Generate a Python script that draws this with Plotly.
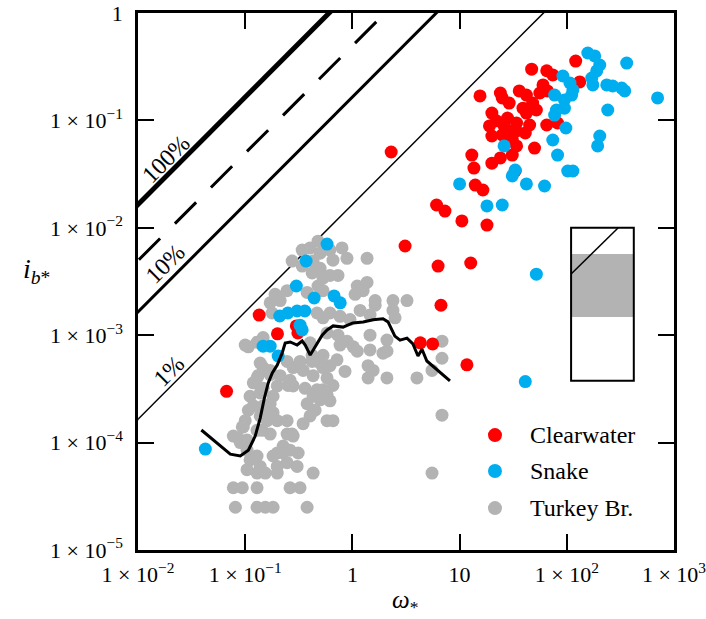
import numpy as np
import plotly.graph_objects as go

# ---- Clearwater River samples (omega*, i_b*) ----
clear_w = [121, 47, 65, 74, 132, 60, 66, 15.5, 24, 25, 36, 42, 56, 48, 29, 20, 22, 28, 34, 42,
           52, 45, 65, 82, 19, 20, 25, 29, 34, 50, 31, 13, 13.6, 20, 24, 31, 33, 14, 16.5, 6.1,
           7.3, 10.5, 18, 3.1, 6.3, 12.7, 6.7, 2.3, 0.135, 0.20, 0.31, 0.30, 4.3, 5.6, 11.7, 0.067,
           39, 34, 26, 41]
clear_i = [0.357, 0.30, 0.29, 0.265, 0.228, 0.214, 0.188, 0.169, 0.18, 0.162, 0.188, 0.172, 0.18,
           0.145, 0.145, 0.117, 0.099, 0.105, 0.0946, 0.117, 0.125, 0.0906, 0.0906, 0.0946, 0.0888,
           0.0716, 0.0733, 0.0797, 0.0578, 0.0553, 0.0657, 0.0476, 0.036, 0.040, 0.0447, 0.0476,
           0.0338, 0.025, 0.0225, 0.0163, 0.0143, 0.0116, 0.0106, 0.00677, 0.0044, 0.0047, 0.0019,
           0.0508, 0.00154, 0.00103, 0.00105, 0.00122, 8.5e-4, 8.3e-4, 5.3e-4, 3.0e-4,
           0.13, 0.0797, 0.0888, 0.0763]

# ---- Snake River samples ----
snake_w = [157, 182, 203, 190, 362, 92, 107, 114, 111, 77, 171, 175, 236, 268, 325, 347, 703, 95,
           95, 80, 77, 241, 98, 26, 74, 82, 203, 194, 102, 114, 33, 31, 42, 62, 10, 18, 25, 52, 41,
           0.58, 0.37, 0.30, 0.44, 0.675, 0.77, 0.21, 0.25, 0.305, 0.36, 0.325, 0.34, 0.147,
           0.171, 0.203, 0.0425]
snake_i = [0.424, 0.398, 0.328, 0.289, 0.342, 0.259, 0.223, 0.192, 0.172, 0.172, 0.248, 0.214,
           0.214, 0.209, 0.20, 0.188, 0.162, 0.155, 0.13, 0.125, 0.112, 0.125, 0.085, 0.0578,
           0.0657, 0.0476, 0.0716, 0.0578, 0.0338, 0.0338, 0.0345, 0.0304, 0.0256, 0.0245, 0.0256,
           0.016, 0.0163, 0.0037, 3.7e-4,
           0.00706, 0.0049, 0.00287, 0.00222, 0.00232, 0.002, 0.00151, 0.00161, 0.00168, 0.00168,
           0.00124, 0.00112, 7.9e-4, 7.9e-4, 6.4e-4, 8.7e-5]

# ---- Turkey Brook samples ----
turkey_w = [0.34, 0.403, 0.478, 0.50, 0.618, 0.80, 0.89, 0.659, 1.37, 0.274, 0.34, 0.43, 0.50,
            0.532, 0.478, 0.532, 0.421, 0.618, 0.734, 0.199, 0.246, 0.212, 0.178, 0.378, 1.11,
            1.37, 1.26, 1.06, 1.63, 1.63, 2.39, 3.23, 1.18, 1.46, 2.39, 2.5, 0.468, 0.618, 0.767,
            0.95, 0.532, 0.107, 0.129, 0.58, 0.734, 0.89, 1.02, 0.767, 0.403, 0.421, 0.50, 0.618,
            0.718, 1.46, 2.10, 2.10, 1.93, 1.46, 1.11, 1.56, 2.10, 4.0, 5.53, 6.85, 6.85, 0.853,
            1.40, 1.40, 0.532, 0.532, 0.58, 0.659, 0.58, 0.618, 0.138, 0.132, 0.119, 0.147, 0.171,
            0.212, 0.199, 0.251, 0.246, 0.28, 0.325, 0.421, 0.147, 0.347, 0.43, 0.362, 0.468,
            0.378, 0.449, 0.403, 0.659, 0.111, 0.119, 0.147, 0.171, 0.182, 0.138, 0.138, 0.160,
            0.10, 0.096, 0.129, 0.171, 0.246, 0.28, 0.0775, 0.090, 0.104, 0.129, 0.138, 0.182,
            0.226, 0.262, 0.199, 0.305, 0.43, 0.0775, 0.094, 0.129, 0.262, 0.325, 0.081, 0.129,
            0.154, 0.182, 0.378, 5.53, 6.85, 0.129, 0.171, 0.262, 0.28, 0.107, 0.094, 0.086,
            0.104, 0.147, 0.182, 0.199, 0.246, 0.144, 0.43, 0.50, 0.532, 0.347, 0.58, 0.274,
            0.226, 0.199, 0.312, 0.246, 0.199, 0.111, 0.104, 0.129, 0.154, 0.10, 0.147, 0.19,
            0.171]
turkey_i = [6.2e-3, 6.5e-3, 7.5e-3, 5.8e-3, 6.2e-3, 6.5e-3, 5.2e-3, 5.0e-3, 5.2e-3, 4.9e-3,
            4.4e-3, 4.9e-3, 4.2e-3, 3.4e-3, 2.87e-3, 2.6e-3, 3.8e-3, 3.6e-3, 3.6e-3, 2.32e-3,
            2.6e-3, 2.1e-3, 1.61e-3, 2.5e-3, 2.87e-3, 3.1e-3, 2.6e-3, 2.4e-3, 2.1e-3, 1.9e-3,
            2.1e-3, 2.1e-3, 1.7e-3, 1.54e-3, 1.7e-3, 1.45e-3, 1.61e-3, 1.61e-3, 1.5e-3, 1.4e-3,
            1.45e-3, 7.8e-4, 8.6e-4, 1.05e-3, 1.0e-3, 8.8e-4, 7.8e-4, 8.1e-4, 8.5e-4, 6.5e-4,
            5.5e-4, 5.2e-4, 5.9e-4, 1.0e-3, 9.0e-4, 7.1e-4, 6.8e-4, 7.3e-4, 7.1e-4, 4.7e-4,
            4.0e-4, 4.0e-4, 4.7e-4, 8.8e-4, 6.1e-4, 4.6e-4, 5.2e-4, 4.0e-4, 6.5e-4, 5.0e-4,
            4.0e-4, 3.4e-4, 2.8e-4, 2.45e-4, 5.5e-4, 4.2e-4, 3.6e-4, 3.2e-4, 4.7e-4, 4.2e-4,
            3.37e-4, 3.4e-4, 5.7e-4, 5.0e-4, 5.7e-4, 5.7e-4, 5.0e-4, 4.7e-4, 4.2e-4, 3.2e-4,
            3.1e-4, 2.3e-4, 2.0e-4, 1.77e-4, 1.6e-4, 2.7e-4, 2.2e-4, 2.2e-4, 2.3e-4, 2.7e-4,
            2.9e-4, 1.77e-4, 1.6e-4, 1.6e-4, 1.4e-4, 1.3e-4, 1.2e-4, 1.2e-4, 1.15e-4, 1.15e-4,
            1.0e-4, 8.5e-5, 7.5e-5, 6.0e-5, 7.5e-5, 8.0e-5, 8.5e-5, 6.0e-5, 6.0e-5, 5.2e-5,
            3.8e-5, 3.8e-5, 3.8e-5, 3.8e-5, 3.8e-5, 2.5e-5, 2.5e-5, 2.5e-5, 2.5e-5, 2.5e-5,
            5.2e-5, 1.8e-4, 4.0e-4, 4.3e-4, 3.8e-4, 3.37e-4, 2.0e-4, 1.4e-4, 1.1e-4, 1.06e-4,
            1.9e-4, 1.9e-4, 1.6e-4, 1.6e-4, 1.3e-4, 2.7e-4, 2.5e-4, 3.1e-4, 1.5e-4, 1.6e-4,
            1.2e-4, 9.3e-5, 8.0e-5, 8.0e-5, 6.5e-5, 5.2e-5, 6.9e-5, 5.6e-5, 5.2e-5, 5.2e-5,
            8.1e-4, 9.5e-4, 2.4e-3, 2.0e-3]

# ---- running trend through the Turkey Brook data ----
trend_w = [0.039, 0.055, 0.0726, 0.090, 0.107, 0.124, 0.138, 0.151, 0.164, 0.179, 0.199, 0.221,
           0.236, 0.263, 0.305, 0.340, 0.363, 0.404, 0.469, 0.522, 0.581, 0.661, 0.818, 1.01,
           1.26, 1.56, 1.93, 2.15, 2.49, 2.78, 3.23, 3.67, 4.09, 4.46, 4.95, 6.14, 8.13]
trend_i = [1.31e-4, 9.9e-5, 7.8e-5, 7.5e-5, 8.5e-5, 1.15e-4, 1.69e-4, 2.6e-4, 3.59e-4, 4.45e-4,
           5.28e-4, 6.8e-4, 8.45e-4, 8.65e-4, 8.1e-4, 8.83e-4, 8.1e-4, 6.54e-4, 8.45e-4, 1.0e-3,
           1.12e-3, 1.22e-3, 1.19e-3, 1.30e-3, 1.33e-3, 1.39e-3, 1.42e-3, 1.33e-3, 9.8e-4, 9.0e-4,
           9.4e-4, 8.3e-4, 6.4e-4, 7.4e-4, 5.75e-4, 4.74e-4, 3.75e-4]

# ---- constant transport-efficiency lines: i_b* = e * R * omega* ----
R_sub = 1.65
efficiency = [1.0, 0.3, 0.1, 0.01]
eff_labels = ["100%", None, "10%", "1%"]

# axis ticks
x_ticks = [1e-2, 1e-1, 1, 10, 1e2, 1e3]
x_ticktext = ["1 × 10<sup>−2</sup>", "1 × 10<sup>−1</sup>", "1", "10",
              "1 × 10<sup>2</sup>", "1 × 10<sup>3</sup>"]
y_ticks = [1e-5, 1e-4, 1e-3, 1e-2, 1e-1, 1]
y_ticktext = ["1 × 10<sup>−5</sup>", "1 × 10<sup>−4</sup>", "1 × 10<sup>−3</sup>",
              "1 × 10<sup>−2</sup>", "1 × 10<sup>−1</sup>", "1"]

SERIF = "Liberation Serif, Times New Roman, serif"
RED = "#ff0000"
BLUE = "#00aeef"
GREY = "#b3b3b3"

fig = go.Figure()

line_styles = [dict(width=5, dash="solid"), dict(width=3, dash="30px,21px"),
               dict(width=3, dash="solid"), dict(width=1.5, dash="solid")]
w_line = np.array([1e-3, 1e4])
for e, st in zip(efficiency, line_styles):
    fig.add_trace(go.Scatter(x=w_line, y=e * R_sub * w_line, mode="lines",
                             line=dict(color="black", **st),
                             showlegend=False, hoverinfo="skip"))

marker_size = 13
fig.add_trace(go.Scatter(x=turkey_w, y=turkey_i, mode="markers", name="Turkey Br.",
                         marker=dict(color=GREY, size=marker_size, line=dict(width=0)),
                         showlegend=False))
fig.add_trace(go.Scatter(x=clear_w, y=clear_i, mode="markers", name="Clearwater",
                         marker=dict(color=RED, size=marker_size, line=dict(width=0)),
                         showlegend=False))
fig.add_trace(go.Scatter(x=snake_w, y=snake_i, mode="markers", name="Snake",
                         marker=dict(color=BLUE, size=marker_size, line=dict(width=0)),
                         showlegend=False))
fig.add_trace(go.Scatter(x=trend_w, y=trend_i, mode="lines",
                         line=dict(color="black", width=3), showlegend=False))

axis_common = dict(type="log", showgrid=False, zeroline=False, showline=True,
                   linecolor="black", linewidth=2.5, mirror="ticks", ticks="inside",
                   ticklen=16, tickwidth=2, tickcolor="black",
                   ticklabeloverflow="allow",
                   tickfont=dict(family=SERIF, size=22, color="black"), automargin=False)

fig.update_xaxes(range=[-2, 3], tickvals=x_ticks, ticktext=x_ticktext,
                 ticklabelstandoff=3, **axis_common)
fig.update_yaxes(range=[-5, 0], tickvals=y_ticks, ticktext=y_ticktext,
                 ticklabelstandoff=8, **axis_common)

annotations = []
# efficiency labels along the lines
label_pos = {"100%": (0.052, 0.728), "10%": (0.050, 0.533), "1%": (0.058, 0.333)}
for lab in eff_labels:
    if lab is None:
        continue
    px, py = label_pos[lab]
    annotations.append(dict(x=px, y=py, xref="paper", yref="paper", text=lab,
                            xanchor="center", yanchor="middle",
                            textangle=-45, showarrow=False,
                            font=dict(family=SERIF, size=24, color="black")))

# axis titles
annotations.append(dict(x=-0.19, y=0.52, xref="paper", yref="paper",
                        xanchor="center", yanchor="middle",
                        text="<i>i</i><sub><i>b</i>*</sub>", showarrow=False,
                        font=dict(family=SERIF, size=28, color="black")))
annotations.append(dict(x=0.498, y=-0.095, xref="paper", yref="paper",
                        xanchor="center", yanchor="middle",
                        text="<i>ω</i><sub>*</sub>", showarrow=False,
                        font=dict(family=SERIF, size=25, color="black")))

# legend entries
legend_names = ["Clearwater", "Snake", "Turkey Br."]
legend_colors = [RED, BLUE, GREY]
legend_y = [0.214, 0.147, 0.078]
shapes = []
for name, col, ly in zip(legend_names, legend_colors, legend_y):
    shapes.append(dict(type="circle", xref="paper", yref="paper",
                       xsizemode="pixel", ysizemode="pixel", xanchor=0.666, yanchor=ly,
                       x0=-7, x1=7, y0=-7, y1=7,
                       fillcolor=col, line=dict(width=0)))
    annotations.append(dict(x=0.728, y=ly, xref="paper", yref="paper", text=name,
                            xanchor="left", yanchor="middle", showarrow=False,
                            font=dict(family=SERIF, size=24, color="black")))

# inset schematic: box, shaded band and sloping line
shapes.append(dict(type="rect", xref="paper", yref="paper", x0=0.808, x1=0.925,
                   y0=0.434, y1=0.551, fillcolor="#b3b3b3", line=dict(width=0)))
shapes.append(dict(type="rect", xref="paper", yref="paper", x0=0.808, x1=0.925,
                   y0=0.315, y1=0.600, fillcolor="rgba(0,0,0,0)",
                   line=dict(color="black", width=2)))
shapes.append(dict(type="line", xref="paper", yref="paper", x0=0.808, y0=0.514,
                   x1=0.896, y1=0.600, line=dict(color="black", width=1.5)))

fig.update_layout(width=706, height=619,
                  margin=dict(l=138, r=32, t=13, b=69, autoexpand=False),
                  paper_bgcolor="white", plot_bgcolor="white",
                  annotations=annotations, shapes=shapes, showlegend=False)

fig.write_html("out.html")
